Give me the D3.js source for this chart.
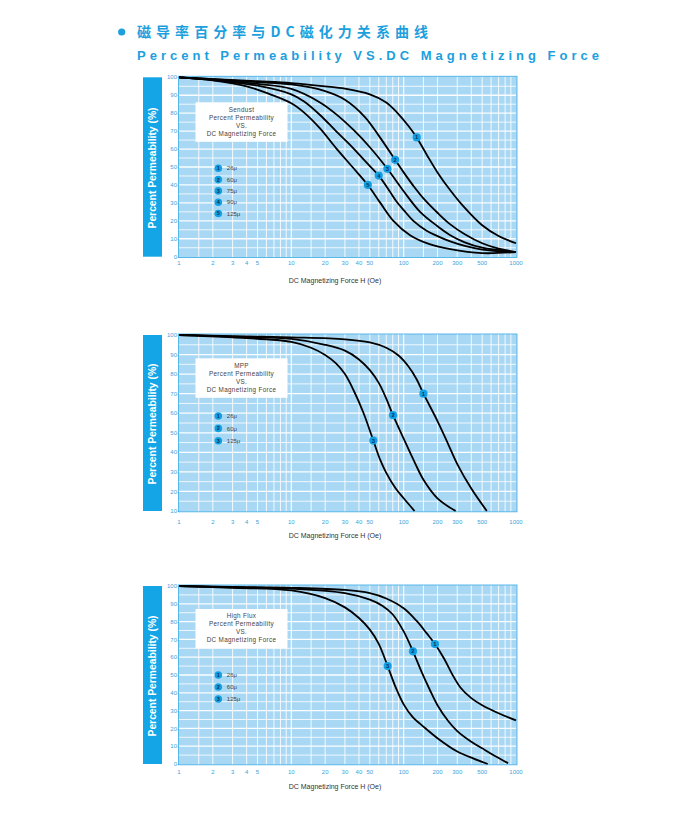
<!DOCTYPE html>
<html>
<head>
<meta charset="utf-8">
<script src="https://cdn.jsdelivr.net/npm/d3@7"></script>
<style>
  body { margin: 0; background: #fff; }
  svg { display: block; font-family: "Liberation Sans", Arial, sans-serif; }
</style>
</head>
<body>
<svg id="chart" width="700" height="822"></svg>
<script>
// ---- data ----
const xTicks = [1, 2, 3, 4, 5, 10, 20, 30, 40, 50, 100, 200, 300, 500, 1000];
const yTicksFull = [0, 10, 20, 30, 40, 50, 60, 70, 80, 90, 100];
const yTicksMpp = [10, 20, 30, 40, 50, 60, 70, 80, 90, 100];

// Sendust, [H (Oe), % permeability]
const sendustLabels = ['26μ', '60μ', '75μ', '90μ', '125μ'];
const sendust26 = [[1,100],[2,99],[5,97.8],[10,96.8],[20,95],[30,93.7],[50,90.5],[70,86],[87,80.5],[110,73],[130.6,66.5],[160,57],[200,47],[260,37],[330,29],[500,17.5],[700,11.5],[1000,7.5]];
const sendust60 = [[1,100],[2,98.9],[5,97.3],[10,96],[20,92.3],[30,87.5],[45,78],[60,67.5],[84,54],[100,47],[122,39.5],[150,32.5],[200,24.5],[260,18],[350,12.5],[500,7.5],[700,4.5],[1000,2.6]];
const sendust75 = [[1,100],[2,98.7],[5,96.3],[10,93.5],[18,86],[25,79.5],[36,70.5],[50,61],[71.6,49],[100,36.5],[140,25],[200,17],[260,12],[350,8],[500,5],[1000,2.6]];
const sendust90 = [[1,100],[2,98.5],[5,95.3],[10,90.5],[13,86.5],[18,79],[25,70],[35,61],[45,53.5],[60,45.2],[75,36.5],[87,30.5],[100,26],[122,20],[160,14.5],[200,11.5],[260,8.5],[350,6],[500,4],[1000,2.6]];
const sendust125 = [[1,100],[2,98.3],[4,95],[6.5,90.5],[10,85.5],[13,80.3],[18,71.5],[25,60.5],[35,50],[48,40],[62,30],[81,20],[114,12],[170,7],[260,4.2],[500,2],[1000,2.6]];
const sendustMarkers = [[130.6,66.5],[84,54],[71.6,49],[60,45.2],[48,40]];

// MPP
const mppLabels = ['26μ', '60μ', '125μ'];
const mpp26 = [[1,100],[3,99.4],[10,98.8],[30,97.8],[50,96.2],[70,93.5],[90,89.5],[110,84],[130,77.5],[150,70],[200,56],[250,44],[300,34],[400,21.5],[550,10]];
const mpp60 = [[1,100],[3,99.2],[10,98],[20,95],[30,92],[40,87.5],[50,82],[60,75.5],[70,67.5],[80.4,59],[100,47],[125,35],[150,26],[200,16.5],[290,10]];
const mpp125 = [[1,100],[3,98.8],[10,96.5],[15,93.5],[20,89.8],[25,85.5],[30,80],[36,71.5],[44,60],[53.7,46],[62,36],[70,29.5],[85,21.5],[100,16.5],[125,10]];
const mppMarkers = [[150,70],[80.4,59],[53.7,46]];

// High Flux
const fluxLabels = ['26μ', '60μ', '125μ'];
const flux26 = [[1,100],[3,99.5],[10,99],[30,97.8],[50,96],[70,93],[100,87.5],[130,80.5],[160,73.5],[190,67.4],[230,59],[270,50.5],[320,43],[400,37],[500,33],[700,28.5],[1000,24.5]];
const flux60 = [[1,100],[3,99.3],[10,98.5],[30,96],[50,92.3],[65,88.8],[80,84],[100,74.5],[121,63.3],[145,51.5],[170,42],[200,33],[250,24],[300,18.5],[400,12.5],[500,8.8],[650,4.5],[850,0.5]];
const flux125 = [[1,100],[3,99],[10,97.5],[20,93.2],[30,88],[40,82],[50,75.5],[60,67.5],[72,55],[85,43],[100,33.5],[120,26.5],[150,21],[200,14.5],[300,7],[420,3],[560,0]];
const fluxMarkers = [[190,67.4],[121,63.3],[72,55]];

// ---- layout ----
const BLUE = '#1ca0dd';
const BAR = '#14a5e6';
const PLOT_BG = '#a9d8f5';
const TICK_TXT = '#3aa3dc';

const charts = [
  { name: 'Sendust', series: [sendust26, sendust60, sendust75, sendust90, sendust125], markers: sendustMarkers,
    labels: sendustLabels, yTicks: yTicksFull, top: 77.3, bottom: 256.7, xLabY: 264.5, titleY: 282.5, boxY: 102.3, legY: 168.3, legStep: 11.3 },
  { name: 'MPP', series: [mpp26, mpp60, mpp125], markers: mppMarkers,
    labels: mppLabels, yTicks: yTicksMpp, top: 335, bottom: 511, xLabY: 523.5, titleY: 538, boxY: 358.3, legY: 416, legStep: 12.4 },
  { name: 'High Flux', series: [flux26, flux60, flux125], markers: fluxMarkers,
    labels: fluxLabels, yTicks: yTicksFull, top: 586, bottom: 764, xLabY: 773.5, titleY: 788.5, boxY: 609, legY: 675, legStep: 12 }
];

const svg = d3.select('#chart');

// page heading
svg.append('circle').attr('cx', 121.7).attr('cy', 32).attr('r', 3.6).attr('fill', BLUE);
svg.append('text')
  .attr('x', 137).attr('y', 37)
  .attr('font-family', '"Noto Sans CJK SC", sans-serif')
  .attr('font-weight', 700).attr('font-size', 14)
  .attr('textLength', 291).attr('lengthAdjust', 'spacing')
  .attr('fill', BLUE)
  .text('磁导率百分率与DC磁化力关系曲线');
svg.append('text')
  .attr('x', 137).attr('y', 60)
  .attr('font-size', 13)
  .attr('font-weight', 700)
  .attr('textLength', 462).attr('lengthAdjust', 'spacing')
  .attr('fill', BLUE)
  .text('Percent Permeability VS.DC Magnetizing Force');

// minor grid multipliers for each decade
const gridMult = [1, 1.5, 2, 3, 4, 5, 6, 7, 8, 9];

charts.forEach(c => {
  const g = svg.append('g');
  const yMin = c.yTicks[0];

  const x = d3.scaleLog().domain([1, 1000]).range([179, 516]);
  const y = d3.scaleLinear().domain([yMin, 100]).range([c.bottom, c.top]);

  // plot background
  g.append('rect')
    .attr('x', 178.5).attr('y', c.top - 1)
    .attr('width', 338.5).attr('height', c.bottom - c.top + 1.8)
    .attr('fill', PLOT_BG);

  // horizontal grid every 5 units
  const hLines = d3.range(yMin + 5, 100, 5);
  g.selectAll('.hgrid')
    .data(hLines)
    .enter()
    .append('line')
    .attr('x1', 179).attr('x2', 516)
    .attr('y1', d => y(d)).attr('y2', d => y(d))
    .attr('stroke', '#fff')
    .attr('stroke-opacity', d => d % 10 === 0 ? 0.95 : 0.8)
    .attr('stroke-width', d => d % 10 === 0 ? 1.3 : 1);

  // vertical log grid
  const vLines = [];
  [1, 10, 100].forEach(dec => gridMult.forEach(m => vLines.push(m * dec)));
  g.selectAll('.vgrid')
    .data(vLines.filter(v => v > 1))
    .enter()
    .append('line')
    .attr('x1', d => x(d)).attr('x2', d => x(d))
    .attr('y1', c.top - 1).attr('y2', c.bottom + 0.8)
    .attr('stroke', '#fff')
    .attr('stroke-opacity', 0.85)
    .attr('stroke-width', d => [10, 100].includes(d) ? 1.3 : 1);

  // frame
  g.append('rect')
    .attr('x', 178.5).attr('y', c.top - 1)
    .attr('width', 338.5).attr('height', c.bottom - c.top + 1.8)
    .attr('fill', 'none')
    .attr('stroke', '#4cb3e8')
    .attr('stroke-width', 0.9);

  // y tick labels ("100-")
  g.selectAll('.ytick')
    .data(c.yTicks)
    .enter()
    .append('text')
    .attr('x', 179).attr('y', d => y(d))
    .attr('dy', '0.35em')
    .attr('text-anchor', 'end')
    .attr('font-size', 6)
    .attr('fill', TICK_TXT)
    .text(d => d + '-');

  // x tick labels
  g.selectAll('.xtick')
    .data(xTicks)
    .enter()
    .append('text')
    .attr('x', d => x(d)).attr('y', c.xLabY)
    .attr('text-anchor', 'middle')
    .attr('font-size', 6)
    .attr('fill', TICK_TXT)
    .text(d => d);

  // x axis title
  g.append('text')
    .attr('x', 335).attr('y', c.titleY)
    .attr('text-anchor', 'middle')
    .attr('font-size', 7)
    .attr('fill', '#333')
    .text('DC Magnetizing Force H (Oe)');

  // y axis title bar
  g.append('rect')
    .attr('x', 143).attr('y', c.top)
    .attr('width', 19).attr('height', c.bottom - c.top)
    .attr('fill', BAR);
  const midY = (c.top + c.bottom) / 2 + 1;
  g.append('text')
    .attr('transform', `translate(156.3,${midY}) rotate(-90)`)
    .attr('text-anchor', 'middle')
    .attr('font-size', 10.5)
    .attr('font-weight', 700)
    .attr('textLength', 121).attr('lengthAdjust', 'spacingAndGlyphs')
    .attr('fill', '#fff')
    .text('Percent Permeability (%)');

  // info box
  g.append('rect')
    .attr('x', 195.5).attr('y', c.boxY)
    .attr('width', 92).attr('height', 39.5)
    .attr('fill', '#fff');
  const boxLines = [c.name, 'Percent Permeability', 'VS.', 'DC Magnetizing Force'];
  g.selectAll('.boxtxt')
    .data(boxLines)
    .enter()
    .append('text')
    .attr('x', 241.5).attr('y', (d, i) => c.boxY + 7 + i * 8)
    .attr('dy', '0.35em')
    .attr('text-anchor', 'middle')
    .attr('font-size', 6.3)
    .attr('letter-spacing', 0.35)
    .attr('fill', '#444')
    .text(d => d);

  // legend
  const leg = g.selectAll('.leg')
    .data(c.labels)
    .enter()
    .append('g')
    .attr('transform', (d, i) => `translate(218.3,${c.legY + i * c.legStep})`);
  leg.append('circle').attr('r', 3.8).attr('fill', '#12a0e4');
  leg.append('text')
    .attr('dy', '0.35em').attr('text-anchor', 'middle')
    .attr('font-size', 5.5).attr('font-weight', 700)
    .attr('fill', '#0d2f5c')
    .text((d, i) => i + 1);
  leg.append('text')
    .attr('x', 8.5).attr('dy', '0.35em')
    .attr('font-size', 6)
    .attr('fill', '#444')
    .text(d => d);

  // curves, smooth through the read points
  const line = d3.line()
    .x(d => x(d[0]))
    .y(d => y(d[1]))
    .curve(d3.curveCatmullRom.alpha(0.5));
  g.selectAll('.curve')
    .data(c.series)
    .enter()
    .append('path')
    .attr('d', line)
    .attr('fill', 'none')
    .attr('stroke', '#000')
    .attr('stroke-width', 1.8);

  // numbered markers on the curves
  const mk = g.selectAll('.marker')
    .data(c.markers)
    .enter()
    .append('g')
    .attr('transform', d => `translate(${x(d[0])},${y(d[1])})`);
  mk.append('circle').attr('r', 4.1).attr('fill', '#12a0e4');
  mk.append('text')
    .attr('dy', '0.35em').attr('text-anchor', 'middle')
    .attr('font-size', 5.8).attr('font-weight', 700)
    .attr('fill', '#0d2f5c')
    .text((d, i) => i + 1);
});
</script>
</body>
</html>
